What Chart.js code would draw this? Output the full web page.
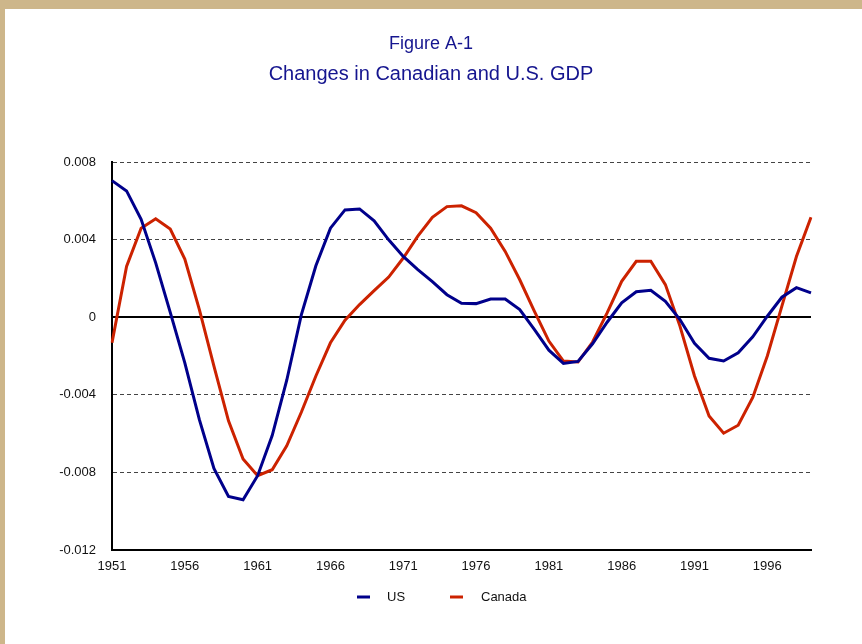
<!DOCTYPE html>
<html>
<head>
<meta charset="utf-8">
<script src="https://cdn.jsdelivr.net/npm/chart.js@4"></script>
<style>
  html, body { margin: 0; padding: 0; background: #fff; }
  #frame {
    position: relative;
    width: 862px;
    height: 644px;
    box-sizing: border-box;
    border-top: 9px solid #cdb68a;
    border-left: 5px solid #cdb68a;
  }
  #chart1 { position: absolute; left: -5px; top: -9px; }
</style>
</head>
<body>
<div id="frame">
  <canvas id="chart1" width="862" height="644"></canvas>
</div>
<script>
// Data
const years = [
  1951, 1952, 1953, 1954, 1955, 1956, 1957, 1958, 1959, 1960,
  1961, 1962, 1963, 1964, 1965, 1966, 1967, 1968, 1969, 1970,
  1971, 1972, 1973, 1974, 1975, 1976, 1977, 1978, 1979, 1980,
  1981, 1982, 1983, 1984, 1985, 1986, 1987, 1988, 1989, 1990,
  1991, 1992, 1993, 1994, 1995, 1996, 1997, 1998, 1999,
];
const usValues = [
  0.00704, 0.00651, 0.00505, 0.0028, 0.00025, -0.00235, -0.00528, -0.0078, -0.00924, -0.00941,
  -0.00817, -0.0061, -0.00325, 0.00012, 0.00265, 0.00459, 0.00553, 0.00558, 0.00497, 0.00399,
  0.00313, 0.00245, 0.00183, 0.00116, 0.00072, 0.0007, 0.00094, 0.00094, 0.00039, -0.00063,
  -0.0017, -0.00238, -0.00228, -0.00137, -0.00026, 0.00074, 0.00131, 0.00139, 0.00082, -0.00012,
  -0.00135, -0.00212, -0.00226, -0.00183, -0.00101, 0.00005, 0.00103, 0.00152, 0.00125,
];
const canadaValues = [
  -0.00132, 0.00262, 0.00459, 0.00507, 0.00454, 0.003, 0.00039, -0.00252, -0.00534, -0.00731,
  -0.00817, -0.00786, -0.00663, -0.0049, -0.00303, -0.00132, -0.00015, 0.00065, 0.00137, 0.00207,
  0.00305, 0.00418, 0.00515, 0.0057, 0.00574, 0.00539, 0.00459, 0.00339, 0.00193, 0.00031,
  -0.00123, -0.00226, -0.00231, -0.00128, 0.00022, 0.00185, 0.00288, 0.00288, 0.00168, -0.00046,
  -0.00303, -0.00509, -0.00598, -0.00557, -0.00414, -0.002, 0.00057, 0.00313, 0.00515,
];
const yTickLabels = ["-0.012", "-0.008", "-0.004", "0", "0.004", "0.008"];

const US_COLOR = "#00008b";
const CANADA_COLOR = "#cc2200";
const TITLE_COLOR = "#15158f";
const FONT = "'Liberation Sans', Arial, sans-serif";

// solid zero line
const zeroLine = {
  id: "zeroLine",
  beforeDatasetsDraw(chart) {
    const { ctx, chartArea, scales } = chart;
    const y = Math.round(scales.y.getPixelForValue(0));
    ctx.save();
    ctx.strokeStyle = "#000";
    ctx.lineWidth = 2;
    ctx.beginPath();
    ctx.moveTo(chartArea.left, y);
    ctx.lineTo(chartArea.right, y);
    ctx.stroke();
    ctx.restore();
  },
};

// legend under the axis, drawn by hand for the spacing
const bottomLegend = {
  id: "bottomLegend",
  afterDraw(chart) {
    const ctx = chart.ctx;
    const spots = [
      { lineX: 357, textX: 387 },
      { lineX: 450, textX: 481 },
    ];
    const y = 597;
    ctx.save();
    ctx.font = "13px " + FONT;
    ctx.textBaseline = "middle";
    ctx.textAlign = "left";
    chart.data.datasets.forEach(function (ds, i) {
      const s = spots[i];
      ctx.strokeStyle = ds.borderColor;
      ctx.lineWidth = 3;
      ctx.beginPath();
      ctx.moveTo(s.lineX, y);
      ctx.lineTo(s.lineX + 13, y);
      ctx.stroke();
      ctx.fillStyle = "#111";
      ctx.fillText(ds.label, s.textX, y);
    });
    ctx.restore();
  },
};

document.addEventListener("DOMContentLoaded", function () {
  new Chart(document.getElementById("chart1"), {
    type: "line",
    data: {
      labels: years,
      datasets: [
        {
          label: "US",
          data: usValues,
          borderColor: US_COLOR,
          backgroundColor: US_COLOR,
          borderWidth: 3,
          pointRadius: 0,
          tension: 0,
        },
        {
          label: "Canada",
          data: canadaValues,
          borderColor: CANADA_COLOR,
          backgroundColor: CANADA_COLOR,
          borderWidth: 3,
          pointRadius: 0,
          tension: 0,
        },
      ],
    },
    options: {
      responsive: false,
      animation: false,
      devicePixelRatio: 1,
      layout: { padding: 0 },
      scales: {
        x: {
          offset: false,
          grid: { display: false, drawTicks: false },
          border: { display: true, color: "#000", width: 2 },
          ticks: {
            autoSkip: false,
            maxRotation: 0,
            padding: 9,
            color: "#111",
            font: { family: FONT, size: 13 },
            callback: function (value, index) {
              return index % 5 === 0 ? years[index] : null;
            },
          },
          afterFit: function (scale) {
            scale.height = 94;
          },
        },
        y: {
          min: -0.012,
          max: 0.008,
          grid: {
            drawTicks: false,
            lineWidth: 1,
            color: function (c) {
              if (!c.tick || c.tick.value === 0 || c.index === 0) return "rgba(0,0,0,0)";
              return "#444";
            },
          },
          border: { display: true, color: "#000", width: 2, dash: [4, 3] },
          ticks: {
            stepSize: 0.004,
            padding: 16,
            color: "#111",
            font: { family: FONT, size: 13 },
            callback: function (value, index) {
              return yTickLabels[index];
            },
          },
          afterFit: function (scale) {
            scale.width = 112;
          },
        },
        // empty right margin so the title centres on the whole page
        yRight: {
          position: "right",
          min: -0.012,
          max: 0.008,
          grid: { display: false, drawTicks: false },
          border: { display: false },
          ticks: { display: false },
          afterFit: function (scale) {
            scale.width = 51;
          },
        },
      },
      plugins: {
        legend: { display: false },
        tooltip: { enabled: false },
        title: {
          display: true,
          text: "Figure A-1",
          color: TITLE_COLOR,
          font: { family: FONT, size: 18, weight: "normal", lineHeight: "30px" },
          padding: { top: 29, bottom: 0 },
        },
        subtitle: {
          display: true,
          text: "Changes in Canadian and U.S. GDP",
          color: TITLE_COLOR,
          font: { family: FONT, size: 20, weight: "normal", lineHeight: "30px" },
          padding: { top: 0, bottom: 73 },
        },
      },
    },
    plugins: [zeroLine, bottomLegend],
  });
});
</script>
</body>
</html>
